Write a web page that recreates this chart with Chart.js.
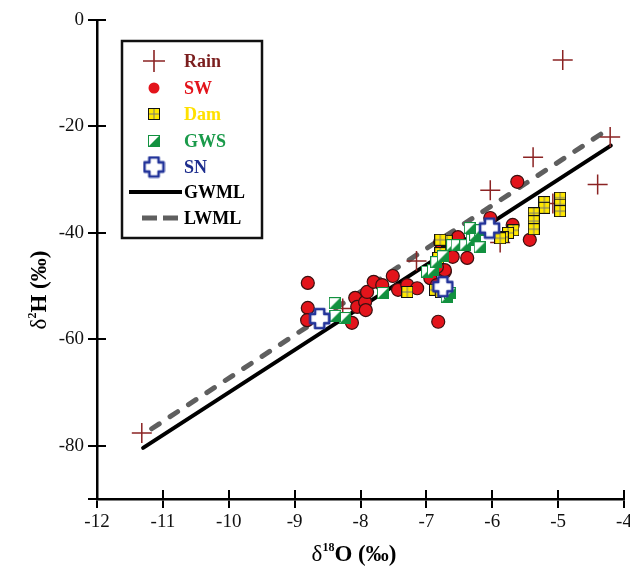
<!DOCTYPE html>
<html>
<head>
<meta charset="utf-8">
<script src="https://cdn.jsdelivr.net/npm/chart.js@4.4.1/dist/chart.umd.min.js"></script>
<style>
  html, body { margin: 0; padding: 0; background: #fff; }
  #wrap { width: 630px; height: 574px; }
</style>
</head>
<body>
<div id="wrap"><canvas id="isoChart"></canvas></div>
<script>
// axis ticks
const xTicks = [-12, -11, -10, -9, -8, -7, -6, -5, -4];
const yTicks = [-90, -80, -60, -40, -20, 0];

// isotope samples (d18O, d2H)
const rainX = [-11.32, -4.93, -4.21, -4.40, -5.38, -6.03, -5.88, -5.08, -7.15, -8.27];
const rainY = [-77.6, -7.5, -22.0, -30.9, -25.8, -32.0, -41.8, -34.5, -45.3, -54.2];

const swX = [-8.80, -8.80, -8.81, -8.13, -8.08, -8.05, -7.93, -7.92, -7.90, -7.80, -7.67, -7.51, -7.43, -7.29, -7.14,
             -6.94, -6.84, -6.72, -6.82, -6.76, -6.60, -5.62, -6.03, -5.69, -5.43, -6.79, -6.52, -6.38, -6.72, -6.84];
const swY = [-49.4, -54.1, -56.4, -56.9, -52.2, -53.9, -53.0, -54.5, -51.1, -49.2, -49.8, -48.1, -50.7, -49.8, -50.4,
             -48.5, -49.8, -47.3, -56.7, -42.3, -44.5, -30.4, -37.2, -38.5, -41.3, -41.7, -40.8, -44.7, -47.0, -46.4];

const damX = [-4.97, -4.97, -4.97, -5.21, -5.21, -5.37, -5.37, -5.37, -5.68, -5.76, -5.84, -5.88,
              -6.69, -6.79, -6.79, -6.82, -6.87, -6.78, -7.29];
const damY = [-33.4, -34.7, -35.9, -34.2, -35.3, -36.3, -37.8, -39.3, -39.5, -40.0, -40.8, -41.0,
              -41.5, -41.3, -43.8, -44.7, -50.7, -51.1, -51.1];

const gwsX = [-8.39, -8.24, -8.38, -7.66, -6.99, -6.90, -6.85, -6.75, -6.69, -6.64, -6.61, -6.54, -6.41, -6.31, -6.26, -6.19, -6.19, -6.34];
const gwsY = [-53.2, -56.0, -55.6, -51.3, -47.3, -47.0, -45.5, -44.4, -52.0, -51.3, -42.3, -42.3, -42.3, -41.3, -40.4, -39.5, -42.7, -39.1];

const snX = [-8.62, -6.75, -6.04];
const snY = [-56.1, -50.1, -39.1];

// water lines, end points only
const gwmlX = [-11.3, -4.2];
const gwmlY = [-80.4, -23.6];
const lwmlX = [-11.17, -4.21];
const lwmlY = [-76.8, -20.3];

const pts = (xs, ys) => xs.map((x, i) => ({ x: x, y: ys[i] }));

const RAIN_C = '#8B2323';
const SW_C = '#E3141B';
const DAM_C = '#FFE800';
const GWS_C = '#12913F';
const SN_C = '#23349A';

// marker images
function damMarker(s) {
  const c = document.createElement('canvas');
  c.width = s; c.height = s;
  const g = c.getContext('2d');
  g.fillStyle = DAM_C;
  g.fillRect(0, 0, s, s);
  g.strokeStyle = '#777';
  g.lineWidth = 1;
  g.beginPath();
  g.moveTo(s / 2, 1); g.lineTo(s / 2, s - 1);
  g.moveTo(1, s / 2); g.lineTo(s - 1, s / 2);
  g.stroke();
  g.strokeStyle = '#111';
  g.strokeRect(0.5, 0.5, s - 1, s - 1);
  return c;
}

function gwsMarker(s) {
  const c = document.createElement('canvas');
  c.width = s; c.height = s;
  const g = c.getContext('2d');
  g.fillStyle = '#fff';
  g.fillRect(0, 0, s, s);
  g.fillStyle = GWS_C;
  g.beginPath();
  g.moveTo(s, 0); g.lineTo(s, s); g.lineTo(0, s);
  g.closePath();
  g.fill();
  g.strokeStyle = GWS_C;
  g.lineWidth = 1;
  g.strokeRect(0.5, 0.5, s - 1, s - 1);
  return c;
}

function snMarker(s) {
  const c = document.createElement('canvas');
  c.width = s; c.height = s;
  const g = c.getContext('2d');
  const m = s / 2, a = s * 0.2, L = s / 2 - 2;
  const p = [[-a, -L], [a, -L], [a, -a], [L, -a], [L, a], [a, a], [a, L], [-a, L], [-a, a], [-L, a], [-L, -a], [-a, -a]];
  g.beginPath();
  p.forEach((q, i) => i ? g.lineTo(m + q[0], m + q[1]) : g.moveTo(m + q[0], m + q[1]));
  g.closePath();
  g.fillStyle = '#fff';
  g.fill();
  g.lineJoin = 'round';
  g.lineWidth = 2.6;
  g.strokeStyle = SN_C;
  g.stroke();
  return c;
}

const damImg = damMarker(12);
const gwsImg = gwsMarker(12);
const snImg = snMarker(23);

const SERIF = "'Liberation Serif', 'Times New Roman', serif";

// inner half of the tick marks (ticks cross the axis lines)
const innerTicks = {
  id: 'innerTicks',
  afterDraw(chart) {
    const { ctx, chartArea, scales } = chart;
    ctx.save();
    ctx.strokeStyle = '#000';
    ctx.lineWidth = 2;
    ctx.beginPath();
    xTicks.forEach(v => {
      const px = Math.round(scales.x.getPixelForValue(v));
      ctx.moveTo(px, chartArea.bottom);
      ctx.lineTo(px, chartArea.bottom - 9);
    });
    yTicks.forEach(v => {
      const py = Math.round(scales.y.getPixelForValue(v));
      ctx.moveTo(chartArea.left, py);
      ctx.lineTo(chartArea.left + 9, py);
    });
    ctx.stroke();
    ctx.restore();
  }
};

// axis titles with superscripts
function supTitle(ctx, parts, cx, cy, rot) {
  ctx.save();
  ctx.translate(cx, cy);
  ctx.rotate(rot);
  let w = 0;
  parts.forEach(p => { ctx.font = p.font; w += ctx.measureText(p.t).width; });
  let x = -w / 2;
  ctx.fillStyle = '#000';
  ctx.textBaseline = 'alphabetic';
  parts.forEach(p => {
    ctx.font = p.font;
    ctx.fillText(p.t, x, 8 + (p.dy || 0));
    x += ctx.measureText(p.t).width;
  });
  ctx.restore();
}

const axisTitles = {
  id: 'axisTitles',
  afterDraw(chart) {
    const ctx = chart.ctx;
    const big = 'bold 23px ' + SERIF;
    const sup = 'bold 12px ' + SERIF;
    supTitle(ctx, [
      { t: 'δ', font: '23px ' + SERIF },
      { t: '18', font: sup, dy: -10 },
      { t: 'O (‰)', font: big }
    ], 354, 553, 0);
    supTitle(ctx, [
      { t: 'δ', font: '23px ' + SERIF },
      { t: '2', font: sup, dy: -10 },
      { t: 'H (‰)', font: big }
    ], 38, 290, -Math.PI / 2);
  }
};

// boxed legend in the upper left
const boxLegend = {
  id: 'boxLegend',
  afterDraw(chart) {
    const ctx = chart.ctx;
    const bx = 122, by = 41, bw = 140, bh = 197;
    ctx.save();
    ctx.fillStyle = '#fff';
    ctx.fillRect(bx, by, bw, bh);
    ctx.strokeStyle = '#111';
    ctx.lineWidth = 2.5;
    ctx.strokeRect(bx, by, bw, bh);

    const mx = 154, tx = 184;
    const rows = [
      { label: 'Rain', color: '#7B1E1E', y: 61 },
      { label: 'SW', color: SW_C, y: 88 },
      { label: 'Dam', color: '#FFE000', y: 114 },
      { label: 'GWS', color: '#1A9A4A', y: 141 },
      { label: 'SN', color: '#1E2E8E', y: 167 },
      { label: 'GWML', color: '#000', y: 192 },
      { label: 'LWML', color: '#000', y: 218 }
    ];

    // Rain cross
    ctx.strokeStyle = RAIN_C;
    ctx.lineWidth = 1.6;
    ctx.beginPath();
    ctx.moveTo(mx - 11, 61); ctx.lineTo(mx + 11, 61);
    ctx.moveTo(mx, 50); ctx.lineTo(mx, 72);
    ctx.stroke();
    // SW circle
    ctx.beginPath();
    ctx.arc(mx, 88, 5.5, 0, Math.PI * 2);
    ctx.fillStyle = SW_C;
    ctx.fill();
    ctx.drawImage(damImg, mx - 6, 114 - 6);
    ctx.drawImage(gwsImg, mx - 6, 141 - 6);
    ctx.drawImage(snImg, mx - 11.5, 167 - 11.5);
    // GWML
    ctx.strokeStyle = '#000';
    ctx.lineWidth = 4;
    ctx.beginPath();
    ctx.moveTo(129, 192); ctx.lineTo(182, 192);
    ctx.stroke();
    // LWML
    ctx.strokeStyle = '#5f5f5f';
    ctx.lineWidth = 5;
    ctx.setLineDash([15, 6]);
    ctx.beginPath();
    ctx.moveTo(142, 218); ctx.lineTo(178, 218);
    ctx.stroke();
    ctx.setLineDash([]);

    ctx.font = 'bold 18px ' + SERIF;
    ctx.textBaseline = 'middle';
    rows.forEach(r => {
      ctx.fillStyle = r.color;
      ctx.fillText(r.label, tx, r.y + 1);
    });
    ctx.restore();
  }
};

const tickFont = { family: SERIF, size: 19 };

new Chart(document.getElementById('isoChart'), {
  type: 'scatter',
  data: {
    datasets: [
      {
        label: 'GWML', data: pts(gwmlX, gwmlY), showLine: true, pointRadius: 0,
        borderColor: '#000', borderWidth: 4, borderCapStyle: 'round', order: 7
      },
      {
        label: 'LWML', data: pts(lwmlX, lwmlY), showLine: true, pointRadius: 0,
        borderColor: '#5f5f5f', borderWidth: 5, borderDash: [9, 13], borderCapStyle: 'round', order: 6
      },
      {
        label: 'Rain', data: pts(rainX, rainY), pointStyle: 'cross', pointRadius: 10,
        borderColor: RAIN_C, borderWidth: 1.5, order: 5
      },
      {
        label: 'SW', data: pts(swX, swY), pointStyle: 'circle', pointRadius: 6.5,
        backgroundColor: SW_C, borderColor: '#3a1010', borderWidth: 1.2, order: 4
      },
      {
        label: 'Dam', data: pts(damX, damY), pointStyle: damImg, pointRadius: 6, order: 3
      },
      {
        label: 'GWS', data: pts(gwsX, gwsY), pointStyle: gwsImg, pointRadius: 6, order: 2
      },
      {
        label: 'SN', data: pts(snX, snY), pointStyle: snImg, pointRadius: 11, order: 1
      }
    ]
  },
  options: {
    responsive: true,
    maintainAspectRatio: false,
    animation: false,
    devicePixelRatio: 1,
    layout: { autoPadding: false, padding: { top: 20, right: 6, bottom: 0, left: 0 } },
    plugins: { legend: { display: false }, tooltip: { enabled: false } },
    scales: {
      x: {
        type: 'linear', min: -12, max: -4,
        afterBuildTicks: s => { s.ticks = xTicks.map(v => ({ value: v })); },
        afterFit: s => { s.height = 75; s.paddingLeft = 0; s.paddingRight = 0; },
        ticks: { font: tickFont, color: '#111', padding: 3, maxRotation: 0, autoSkip: false },
        grid: { display: true, drawOnChartArea: false, drawTicks: true, tickLength: 9, color: '#000', lineWidth: 2 },
        border: { display: true, color: '#000', width: 2.5 }
      },
      y: {
        type: 'linear', min: -90, max: 0,
        afterBuildTicks: s => { s.ticks = yTicks.map(v => ({ value: v })); },
        afterFit: s => { s.width = 97; s.paddingTop = 0; s.paddingBottom = 0; },
        ticks: { font: tickFont, color: '#111', padding: 4, autoSkip: false,
                 callback: v => (v === -90 ? '' : v) },
        grid: { display: true, drawOnChartArea: false, drawTicks: true, tickLength: 9, color: '#000', lineWidth: 2 },
        border: { display: true, color: '#000', width: 2.5 }
      }
    }
  },
  plugins: [innerTicks, axisTitles, boxLegend]
});
</script>
</body>
</html>
